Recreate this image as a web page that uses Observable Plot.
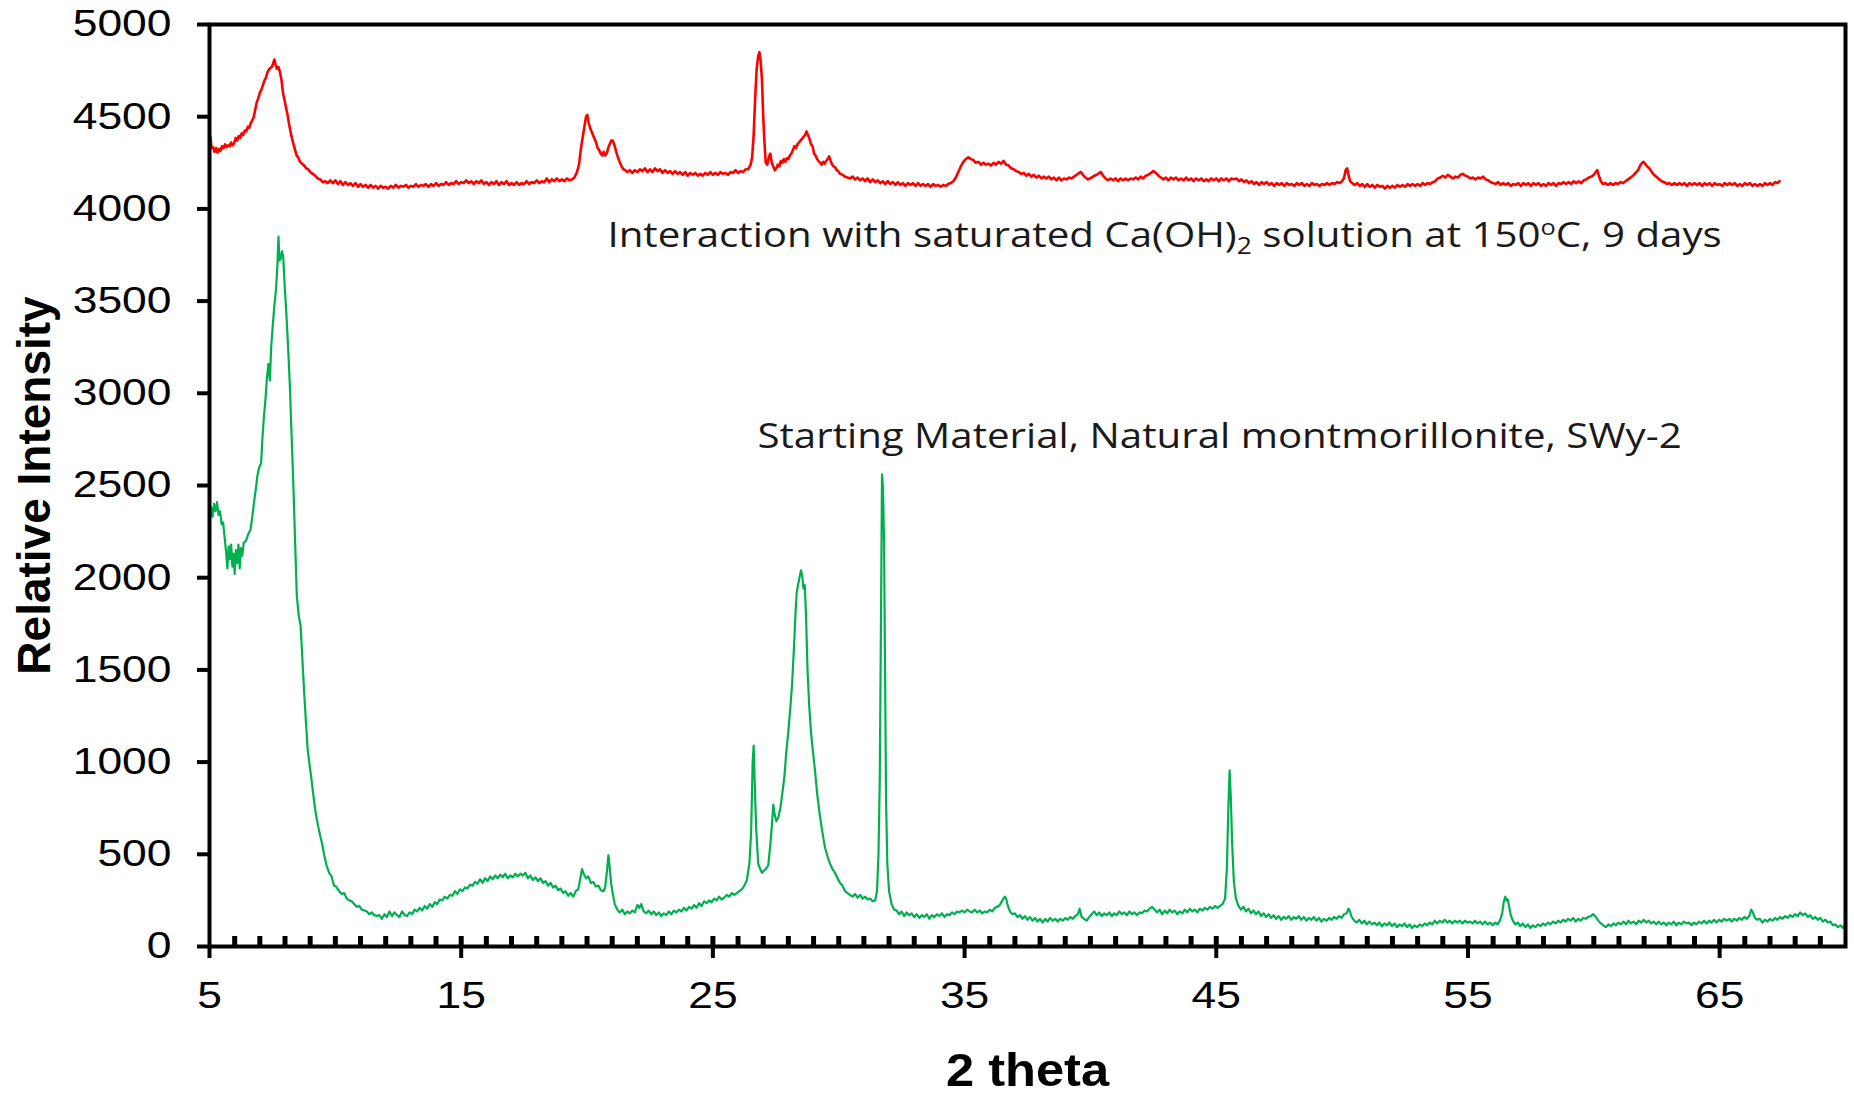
<!DOCTYPE html>
<html>
<head>
<meta charset="utf-8">
<style>
  html, body { margin: 0; padding: 0; background: #fff; }
  #chart { width: 1854px; height: 1098px; }
</style>
<script src="https://cdn.jsdelivr.net/npm/d3@7"></script>
<script src="https://cdn.jsdelivr.net/npm/@observablehq/plot@0.6"></script>
</head>
<body>
<div id="chart"></div>
<script>
// ---- Tick values ----
const xTicks = [5, 15, 25, 35, 45, 55, 65];
const xMinorTicks = [6,7,8,9,10,11,12,13,14,15,16,17,18,19,20,21,22,23,24,25,26,27,28,29,30,31,32,33,34,35,36,37,38,39,40,41,42,43,44,45,46,47,48,49,50,51,52,53,54,55,56,57,58,59,60,61,62,63,64,65,66,67,68,69];
const yTicks = [0, 500, 1000, 1500, 2000, 2500, 3000, 3500, 4000, 4500, 5000];

// ---- Axis titles ----
const xTitle = ["2 theta"];
const yTitle = ["Relative Intensity"];

// ---- Curve annotations (2θ, intensity where the text starts) ----
const notes = [
  {text: "Interaction with saturated Ca(OH)2 solution at 150oC, 9 days", x: 20.81, y: 3855},
  {text: "Starting Material, Natural montmorillonite, SWy-2", x: 26.77, y: 2766}
];

// ---- Starting material (green), [2θ, intensity] ----
const startingMaterial = [
[5.00,2310],[5.07,2380],[5.12,2330],[5.18,2400],[5.24,2360],[5.30,2410],[5.36,2340],[5.42,2360],[5.48,2290],[5.54,2300],
[5.60,2220],[5.66,2140],[5.71,2050],[5.76,2170],[5.81,2100],[5.86,2180],[5.91,2060],[5.96,2130],[6.00,2020],[6.05,2150],
[6.10,2080],[6.15,2180],[6.20,2050],[6.25,2160],[6.30,2120],[6.36,2190],[6.45,2200],[6.55,2240],[6.63,2260],[6.70,2330],
[6.77,2410],[6.84,2480],[6.91,2560],[6.98,2600],[7.05,2620],[7.10,2750],[7.16,2870],[7.22,2960],[7.28,3080],[7.34,3160],
[7.40,3070],[7.45,3250],[7.52,3380],[7.58,3480],[7.64,3560],[7.70,3700],[7.74,3850],[7.78,3720],[7.83,3730],[7.88,3770],
[7.93,3740],[7.98,3600],[8.05,3440],[8.12,3260],[8.19,3050],[8.26,2780],[8.33,2510],[8.40,2200],[8.47,1900],[8.55,1790],
[8.62,1740],[8.69,1560],[8.76,1380],[8.83,1220],[8.90,1070],[8.97,990],[9.04,920],[9.11,840],[9.18,760],[9.25,700],
[9.32,650],[9.40,600],[9.47,560],[9.55,500],[9.65,440],[9.75,400],[9.85,380],[9.95,330],[10.03,325],[10.15,300],
[10.25,285],[10.35,290],[10.45,260],[10.55,250],[10.65,245],[10.75,230],[10.85,215],[10.95,220],[11.05,200],[11.15,195],
[11.25,190],[11.35,175],[11.45,185],[11.55,170],[11.65,165],[11.75,170],[11.85,150],[11.95,175],[12.05,160],[12.15,190],
[12.25,165],[12.35,185],[12.45,170],[12.55,160],[12.65,190],[12.75,170],[12.85,165],[12.95,185],[13.05,175],[13.15,200],
[13.25,190],[13.35,210],[13.45,195],[13.55,220],[13.65,205],[13.75,230],[13.85,215],[13.95,240],[14.05,230],[14.15,255],
[14.25,250],[14.35,270],[14.45,260],[14.55,280],[14.65,275],[14.75,300],[14.85,285],[14.95,310],[15.05,300],[15.15,320],
[15.25,315],[15.35,335],[15.45,330],[15.55,350],[15.65,340],[15.75,365],[15.85,345],[15.95,370],[16.05,355],[16.15,380],
[16.25,365],[16.35,385],[16.45,370],[16.55,390],[16.65,375],[16.75,395],[16.85,370],[16.95,385],[17.05,375],[17.15,395],
[17.25,380],[17.35,395],[17.45,385],[17.55,400],[17.65,370],[17.75,385],[17.85,360],[17.95,375],[18.05,355],[18.15,370],
[18.25,345],[18.35,355],[18.45,330],[18.55,345],[18.65,320],[18.75,330],[18.85,305],[18.95,315],[19.05,290],[19.15,300],
[19.25,275],[19.35,290],[19.45,270],[19.55,300],[19.65,310],[19.72,360],[19.80,420],[19.88,390],[19.96,370],[20.05,380],
[20.15,345],[20.25,350],[20.35,325],[20.45,330],[20.55,305],[20.65,300],[20.72,320],[20.80,420],[20.85,495],[20.90,430],
[20.96,340],[21.02,290],[21.10,230],[21.20,200],[21.30,185],[21.40,200],[21.50,175],[21.60,190],[21.70,180],[21.80,195],
[21.90,185],[22.00,225],[22.08,210],[22.15,230],[22.25,190],[22.35,180],[22.45,195],[22.55,175],[22.65,190],[22.75,170],
[22.85,185],[22.95,165],[23.05,180],[23.15,170],[23.25,190],[23.35,175],[23.45,195],[23.55,185],[23.65,200],[23.75,190],
[23.85,210],[23.95,195],[24.05,215],[24.15,205],[24.25,225],[24.35,210],[24.45,235],[24.55,220],[24.65,245],[24.75,235],
[24.85,250],[24.95,240],[25.05,260],[25.15,250],[25.25,270],[25.35,255],[25.45,265],[25.55,280],[25.65,270],[25.75,290],
[25.85,280],[25.95,290],[26.05,300],[26.15,310],[26.25,330],[26.35,360],[26.45,450],[26.52,620],[26.58,1000],[26.62,1090],
[26.66,900],[26.72,640],[26.80,450],[26.88,420],[26.95,400],[27.02,410],[27.10,420],[27.20,440],[27.28,550],[27.34,650],
[27.40,770],[27.45,720],[27.52,680],[27.60,700],[27.68,750],[27.76,830],[27.84,920],[27.92,1060],[28.00,1170],[28.08,1300],
[28.15,1430],[28.22,1620],[28.28,1800],[28.33,1920],[28.38,1960],[28.44,2000],[28.50,2040],[28.55,2010],[28.60,1940],[28.65,1960],
[28.70,1800],[28.76,1500],[28.83,1300],[28.90,1160],[28.98,1050],[29.06,950],[29.15,820],[29.25,710],[29.35,620],[29.45,540],
[29.55,490],[29.65,450],[29.75,420],[29.85,400],[29.95,370],[30.05,345],[30.15,330],[30.25,300],[30.35,290],[30.45,280],
[30.55,270],[30.65,285],[30.75,265],[30.85,280],[30.95,260],[31.05,270],[31.15,255],[31.25,260],[31.35,245],[31.45,250],
[31.52,300],[31.58,500],[31.63,900],[31.68,1800],[31.72,2560],[31.76,2480],[31.80,2200],[31.84,1500],[31.88,800],[31.93,450],
[32.00,300],[32.10,230],[32.20,200],[32.30,195],[32.40,175],[32.50,190],[32.60,165],[32.70,185],[32.80,170],[32.90,180],
[33.00,160],[33.10,175],[33.20,155],[33.30,170],[33.40,160],[33.50,175],[33.60,150],[33.70,170],[33.80,160],[33.90,175],
[34.00,165],[34.10,180],[34.20,160],[34.30,175],[34.40,170],[34.50,185],[34.60,175],[34.70,190],[34.80,185],[34.90,195],
[35.00,185],[35.10,200],[35.20,190],[35.30,185],[35.40,200],[35.50,185],[35.60,195],[35.70,180],[35.80,190],[35.90,185],
[36.00,200],[36.10,190],[36.20,210],[36.30,215],[36.40,225],[36.50,250],[36.60,270],[36.65,260],[36.70,230],[36.80,190],
[36.90,175],[37.00,180],[37.10,160],[37.20,170],[37.30,150],[37.40,165],[37.50,145],[37.60,160],[37.70,140],[37.80,155],
[37.90,135],[38.00,150],[38.10,130],[38.20,150],[38.30,135],[38.40,155],[38.50,140],[38.60,150],[38.70,135],[38.80,150],
[38.90,140],[39.00,155],[39.10,145],[39.20,160],[39.30,150],[39.40,165],[39.50,175],[39.57,205],[39.65,160],[39.75,150],
[39.85,140],[39.95,160],[40.05,175],[40.15,190],[40.25,170],[40.35,185],[40.45,165],[40.55,180],[40.65,170],[40.75,185],
[40.85,165],[40.95,180],[41.05,170],[41.15,190],[41.25,175],[41.35,185],[41.45,170],[41.55,190],[41.65,175],[41.75,185],
[41.85,170],[41.95,185],[42.05,180],[42.15,195],[42.25,190],[42.35,205],[42.45,215],[42.55,200],[42.65,185],[42.75,200],
[42.85,175],[42.95,195],[43.05,180],[43.15,200],[43.25,185],[43.35,195],[43.45,175],[43.55,190],[43.65,180],[43.75,200],
[43.85,185],[43.95,205],[44.05,190],[44.15,200],[44.25,185],[44.35,205],[44.45,195],[44.55,210],[44.65,200],[44.75,215],
[44.85,205],[44.95,220],[45.05,210],[45.15,220],[45.25,230],[45.35,260],[45.42,420],[45.48,750],[45.53,955],[45.58,800],
[45.63,560],[45.70,350],[45.78,260],[45.88,220],[45.98,200],[46.08,215],[46.18,190],[46.28,205],[46.38,180],[46.48,195],
[46.58,175],[46.68,190],[46.78,165],[46.88,180],[46.98,160],[47.08,175],[47.18,155],[47.28,170],[47.38,150],[47.48,165],
[47.58,145],[47.68,160],[47.78,150],[47.88,165],[47.98,145],[48.08,160],[48.18,150],[48.28,165],[48.38,145],[48.48,160],
[48.58,140],[48.68,155],[48.78,145],[48.88,160],[48.98,140],[49.08,155],[49.18,135],[49.28,150],[49.38,140],[49.48,155],
[49.58,145],[49.68,160],[49.78,150],[49.88,165],[49.98,155],[50.08,175],[50.18,180],[50.25,205],[50.30,195],[50.38,160],
[50.48,140],[50.58,130],[50.68,145],[50.78,125],[50.88,140],[50.98,120],[51.08,135],[51.18,120],[51.28,130],[51.38,115],
[51.48,130],[51.58,110],[51.68,125],[51.78,115],[51.88,130],[51.98,110],[52.08,125],[52.18,105],[52.28,120],[52.38,110],
[52.48,125],[52.58,105],[52.68,120],[52.78,100],[52.88,115],[52.98,105],[53.08,120],[53.18,110],[53.28,125],[53.38,115],
[53.48,130],[53.58,120],[53.68,140],[53.78,125],[53.88,140],[53.98,130],[54.08,145],[54.18,130],[54.28,140],[54.38,125],
[54.48,140],[54.58,130],[54.68,140],[54.78,125],[54.88,140],[54.98,130],[55.08,135],[55.18,125],[55.28,140],[55.38,125],
[55.48,135],[55.58,120],[55.68,135],[55.78,120],[55.88,130],[55.98,115],[56.08,130],[56.18,120],[56.28,145],[56.36,180],
[56.42,240],[56.48,270],[56.53,250],[56.58,255],[56.64,215],[56.70,170],[56.78,140],[56.88,120],[56.98,130],[57.08,110],
[57.18,125],[57.28,105],[57.38,120],[57.48,100],[57.58,115],[57.68,105],[57.78,120],[57.88,110],[57.98,125],[58.08,115],
[58.18,130],[58.28,120],[58.38,135],[58.48,125],[58.58,140],[58.68,130],[58.78,145],[58.88,135],[58.98,150],[59.08,140],
[59.18,155],[59.28,135],[59.38,150],[59.48,140],[59.58,155],[59.68,150],[59.78,160],[59.88,165],[59.98,175],[60.08,160],
[60.18,140],[60.28,125],[60.38,115],[60.48,105],[60.58,120],[60.68,110],[60.78,125],[60.88,115],[60.98,130],[61.08,120],
[61.18,135],[61.28,120],[61.38,140],[61.48,125],[61.58,135],[61.68,120],[61.78,140],[61.88,130],[61.98,145],[62.08,130],
[62.18,140],[62.28,125],[62.38,135],[62.48,120],[62.58,135],[62.68,120],[62.78,130],[62.88,115],[62.98,130],[63.08,120],
[63.18,135],[63.28,115],[63.38,130],[63.48,120],[63.58,135],[63.68,125],[63.78,130],[63.88,115],[63.98,130],[64.08,120],
[64.18,135],[64.28,125],[64.38,140],[64.48,125],[64.58,140],[64.68,130],[64.78,145],[64.88,130],[64.98,145],[65.08,135],
[65.18,150],[65.28,140],[65.38,150],[65.48,135],[65.58,150],[65.68,140],[65.78,155],[65.88,145],[65.98,160],[66.08,150],
[66.18,165],[66.25,200],[66.32,185],[66.40,155],[66.50,145],[66.60,150],[66.70,130],[66.80,145],[66.90,135],[67.00,150],
[67.10,140],[67.20,155],[67.30,145],[67.40,160],[67.50,150],[67.60,165],[67.70,155],[67.80,170],[67.90,160],[68.00,175],
[68.10,165],[68.20,185],[68.30,170],[68.40,180],[68.50,160],[68.60,170],[68.70,150],[68.80,160],[68.90,145],[69.00,155],
[69.10,135],[69.20,145],[69.30,130],[69.40,135],[69.50,115],[69.60,120],[69.70,105],[69.80,115],[69.90,100],[69.97,115]
];

// ---- After Ca(OH)2 treatment (red), [2θ, intensity] ----
const caOH2Treated = [
[5.00,4400],[5.04,4390],[5.08,4330],[5.14,4335],[5.20,4310],[5.26,4330],[5.32,4305],[5.38,4325],[5.44,4315],[5.50,4340],
[5.56,4330],[5.62,4350],[5.68,4335],[5.74,4345],[5.80,4340],[5.86,4360],[5.92,4345],[5.98,4355],[6.04,4385],[6.10,4370],
[6.16,4395],[6.22,4385],[6.28,4410],[6.34,4400],[6.40,4425],[6.46,4420],[6.52,4445],[6.58,4440],[6.64,4465],[6.70,4480],
[6.76,4500],[6.82,4540],[6.88,4580],[6.94,4600],[7.00,4630],[7.06,4645],[7.12,4670],[7.18,4695],[7.24,4710],[7.30,4740],
[7.36,4755],[7.42,4765],[7.48,4770],[7.53,4790],[7.58,4810],[7.63,4780],[7.68,4760],[7.74,4770],[7.80,4740],[7.86,4700],
[7.92,4630],[7.98,4590],[8.04,4550],[8.10,4510],[8.16,4460],[8.22,4420],[8.28,4380],[8.34,4350],[8.40,4320],[8.46,4290],
[8.52,4280],[8.60,4255],[8.68,4245],[8.76,4235],[8.84,4220],[8.92,4215],[9.00,4200],[9.10,4190],[9.20,4180],[9.30,4165],
[9.40,4160],[9.50,4145],[9.60,4150],[9.70,4140],[9.80,4155],[9.90,4140],[10.00,4155],[10.10,4135],[10.20,4150],[10.30,4130],
[10.40,4145],[10.50,4130],[10.60,4140],[10.70,4125],[10.80,4140],[10.90,4120],[11.00,4135],[11.10,4120],[11.20,4130],[11.30,4115],
[11.40,4130],[11.50,4115],[11.60,4125],[11.70,4110],[11.80,4125],[11.90,4115],[12.00,4120],[12.10,4110],[12.20,4125],[12.30,4115],
[12.40,4130],[12.50,4115],[12.60,4125],[12.70,4120],[12.80,4130],[12.90,4115],[13.00,4125],[13.10,4120],[13.20,4135],[13.30,4120],
[13.40,4130],[13.50,4125],[13.60,4135],[13.70,4120],[13.80,4135],[13.90,4125],[14.00,4140],[14.10,4125],[14.20,4135],[14.30,4130],
[14.40,4145],[14.50,4130],[14.60,4140],[14.70,4135],[14.80,4150],[14.90,4135],[15.00,4145],[15.10,4140],[15.20,4155],[15.30,4140],
[15.40,4150],[15.50,4135],[15.60,4150],[15.70,4140],[15.80,4155],[15.90,4135],[16.00,4145],[16.10,4130],[16.20,4145],[16.30,4135],
[16.40,4150],[16.50,4130],[16.60,4145],[16.70,4135],[16.80,4150],[16.90,4130],[17.00,4140],[17.10,4130],[17.20,4145],[17.30,4130],
[17.40,4140],[17.50,4135],[17.60,4150],[17.70,4135],[17.80,4145],[17.90,4140],[18.00,4155],[18.10,4140],[18.20,4150],[18.30,4145],
[18.40,4165],[18.50,4145],[18.60,4160],[18.70,4150],[18.80,4165],[18.90,4150],[19.00,4160],[19.10,4150],[19.20,4165],[19.30,4155],
[19.40,4160],[19.50,4170],[19.60,4200],[19.68,4240],[19.76,4330],[19.84,4400],[19.90,4450],[19.96,4500],[20.01,4510],[20.06,4470],
[20.12,4440],[20.18,4420],[20.24,4400],[20.30,4380],[20.36,4360],[20.42,4330],[20.48,4320],[20.54,4300],[20.60,4290],[20.66,4310],
[20.72,4290],[20.78,4300],[20.84,4330],[20.90,4350],[20.96,4370],[21.02,4370],[21.08,4350],[21.14,4320],[21.20,4290],[21.28,4260],
[21.36,4235],[21.44,4215],[21.52,4210],[21.60,4200],[21.70,4210],[21.80,4195],[21.90,4210],[22.00,4200],[22.10,4215],[22.20,4205],
[22.30,4220],[22.40,4200],[22.50,4215],[22.60,4200],[22.70,4220],[22.80,4205],[22.90,4215],[23.00,4195],[23.10,4210],[23.20,4195],
[23.30,4205],[23.40,4190],[23.50,4205],[23.60,4190],[23.70,4200],[23.80,4185],[23.90,4200],[24.00,4180],[24.10,4195],[24.20,4185],
[24.30,4195],[24.40,4180],[24.50,4190],[24.60,4180],[24.70,4195],[24.80,4185],[24.90,4200],[25.00,4185],[25.10,4195],[25.20,4185],
[25.30,4200],[25.40,4190],[25.50,4195],[25.60,4185],[25.70,4200],[25.80,4195],[25.90,4210],[26.00,4195],[26.10,4205],[26.20,4200],
[26.30,4215],[26.40,4215],[26.50,4240],[26.56,4280],[26.62,4400],[26.68,4600],[26.74,4760],[26.80,4830],[26.85,4850],[26.90,4800],
[26.95,4700],[27.00,4500],[27.05,4360],[27.10,4250],[27.16,4240],[27.22,4280],[27.28,4300],[27.34,4250],[27.40,4230],[27.46,4210],
[27.52,4220],[27.58,4240],[27.64,4230],[27.70,4260],[27.76,4250],[27.82,4270],[27.88,4255],[27.94,4275],[28.00,4270],[28.06,4290],
[28.12,4300],[28.18,4320],[28.24,4340],[28.30,4330],[28.36,4350],[28.42,4360],[28.48,4370],[28.54,4380],[28.60,4390],[28.66,4400],
[28.72,4420],[28.78,4400],[28.84,4380],[28.90,4350],[28.96,4340],[29.02,4300],[29.08,4290],[29.14,4270],[29.20,4260],[29.26,4250],
[29.32,4240],[29.38,4255],[29.44,4245],[29.50,4260],[29.56,4270],[29.62,4285],[29.68,4260],[29.74,4240],[29.80,4230],[29.86,4225],
[29.92,4210],[29.98,4205],[30.05,4190],[30.15,4185],[30.25,4175],[30.35,4170],[30.45,4165],[30.55,4175],[30.65,4160],[30.75,4170],
[30.85,4155],[30.95,4165],[31.05,4150],[31.15,4165],[31.25,4145],[31.35,4160],[31.45,4145],[31.55,4155],[31.65,4140],[31.75,4150],
[31.85,4135],[31.95,4150],[32.05,4135],[32.15,4145],[32.25,4130],[32.35,4145],[32.45,4130],[32.55,4140],[32.65,4125],[32.75,4140],
[32.85,4130],[32.95,4140],[33.05,4125],[33.15,4140],[33.25,4125],[33.35,4135],[33.45,4125],[33.55,4135],[33.65,4120],[33.75,4135],
[33.85,4125],[33.95,4130],[34.05,4120],[34.15,4130],[34.25,4125],[34.35,4135],[34.45,4140],[34.55,4150],[34.65,4170],[34.75,4200],
[34.85,4230],[34.95,4255],[35.05,4270],[35.15,4280],[35.25,4270],[35.35,4265],[35.45,4250],[35.55,4255],[35.65,4240],[35.75,4250],
[35.85,4240],[35.95,4245],[36.05,4235],[36.15,4250],[36.25,4240],[36.35,4255],[36.45,4245],[36.55,4260],[36.65,4240],[36.75,4235],
[36.85,4220],[36.95,4215],[37.05,4205],[37.15,4200],[37.25,4190],[37.35,4195],[37.45,4180],[37.55,4190],[37.65,4175],[37.75,4185],
[37.85,4170],[37.95,4180],[38.05,4165],[38.15,4175],[38.25,4165],[38.35,4175],[38.45,4160],[38.55,4170],[38.65,4155],[38.75,4170],
[38.85,4155],[38.95,4165],[39.05,4160],[39.15,4170],[39.25,4165],[39.35,4175],[39.45,4185],[39.55,4195],[39.62,4200],[39.70,4185],
[39.80,4170],[39.90,4160],[39.97,4165],[40.05,4170],[40.15,4180],[40.25,4185],[40.35,4195],[40.42,4200],[40.50,4180],[40.60,4165],
[40.70,4155],[40.80,4165],[40.90,4155],[41.00,4165],[41.10,4150],[41.20,4165],[41.30,4155],[41.40,4165],[41.50,4155],[41.60,4165],
[41.70,4160],[41.80,4170],[41.90,4160],[42.00,4175],[42.10,4165],[42.20,4180],[42.30,4185],[42.40,4195],[42.50,4205],[42.60,4195],
[42.70,4180],[42.80,4170],[42.90,4160],[43.00,4170],[43.10,4155],[43.20,4170],[43.30,4160],[43.40,4170],[43.50,4155],[43.60,4165],
[43.70,4155],[43.80,4170],[43.90,4155],[44.00,4165],[44.10,4150],[44.20,4165],[44.30,4155],[44.40,4165],[44.50,4150],[44.60,4160],
[44.70,4150],[44.80,4165],[44.90,4155],[45.00,4165],[45.10,4150],[45.20,4165],[45.30,4155],[45.40,4165],[45.50,4150],[45.60,4165],
[45.70,4160],[45.80,4165],[45.90,4150],[46.00,4160],[46.10,4145],[46.20,4155],[46.30,4140],[46.40,4150],[46.50,4135],[46.60,4145],
[46.70,4130],[46.80,4145],[46.90,4135],[47.00,4145],[47.10,4130],[47.20,4140],[47.30,4125],[47.40,4140],[47.50,4130],[47.60,4140],
[47.70,4125],[47.80,4140],[47.90,4130],[48.00,4135],[48.10,4125],[48.20,4140],[48.30,4130],[48.40,4140],[48.50,4125],[48.60,4135],
[48.70,4125],[48.80,4140],[48.90,4130],[49.00,4135],[49.10,4125],[49.20,4135],[49.30,4130],[49.40,4140],[49.50,4130],[49.60,4140],
[49.70,4135],[49.80,4145],[49.90,4140],[50.00,4150],[50.08,4170],[50.14,4210],[50.20,4220],[50.26,4180],[50.32,4150],[50.40,4140],
[50.50,4130],[50.60,4140],[50.70,4125],[50.80,4135],[50.90,4120],[51.00,4135],[51.10,4120],[51.20,4130],[51.30,4115],[51.40,4130],
[51.50,4120],[51.60,4125],[51.70,4110],[51.80,4125],[51.90,4115],[52.00,4125],[52.10,4115],[52.20,4130],[52.30,4120],[52.40,4130],
[52.50,4120],[52.60,4135],[52.70,4125],[52.80,4135],[52.90,4125],[53.00,4135],[53.10,4125],[53.20,4140],[53.30,4130],[53.40,4140],
[53.50,4135],[53.60,4145],[53.70,4150],[53.80,4165],[53.90,4170],[54.00,4180],[54.10,4170],[54.20,4185],[54.30,4175],[54.40,4165],
[54.50,4175],[54.60,4170],[54.70,4185],[54.80,4190],[54.90,4180],[55.00,4175],[55.10,4165],[55.20,4170],[55.30,4160],[55.40,4170],
[55.50,4165],[55.60,4175],[55.70,4160],[55.80,4155],[55.90,4145],[56.00,4140],[56.10,4135],[56.20,4145],[56.30,4130],[56.40,4140],
[56.50,4130],[56.60,4140],[56.70,4125],[56.80,4135],[56.90,4130],[57.00,4140],[57.10,4125],[57.20,4140],[57.30,4130],[57.40,4140],
[57.50,4125],[57.60,4140],[57.70,4130],[57.80,4140],[57.90,4125],[58.00,4135],[58.10,4125],[58.20,4140],[58.30,4130],[58.40,4140],
[58.50,4125],[58.60,4140],[58.70,4135],[58.80,4145],[58.90,4135],[59.00,4145],[59.10,4135],[59.20,4150],[59.30,4140],[59.40,4150],
[59.50,4140],[59.60,4155],[59.70,4160],[59.80,4170],[59.90,4175],[60.00,4185],[60.08,4200],[60.14,4210],[60.20,4180],[60.28,4150],
[60.36,4135],[60.46,4140],[60.56,4130],[60.66,4140],[60.76,4130],[60.86,4140],[60.96,4135],[61.06,4145],[61.16,4140],[61.26,4150],
[61.36,4160],[61.46,4170],[61.56,4180],[61.66,4195],[61.76,4210],[61.84,4235],[61.92,4250],[61.98,4255],[62.04,4245],[62.12,4230],
[62.20,4220],[62.28,4205],[62.36,4190],[62.44,4180],[62.52,4170],[62.60,4160],[62.70,4150],[62.80,4145],[62.90,4135],[63.00,4140],
[63.10,4130],[63.20,4140],[63.30,4130],[63.40,4140],[63.50,4130],[63.60,4140],[63.70,4125],[63.80,4140],[63.90,4130],[64.00,4140],
[64.10,4130],[64.20,4140],[64.30,4125],[64.40,4140],[64.50,4130],[64.60,4140],[64.70,4125],[64.80,4140],[64.90,4130],[65.00,4135],
[65.10,4125],[65.20,4140],[65.30,4130],[65.40,4140],[65.50,4130],[65.60,4140],[65.70,4125],[65.80,4135],[65.90,4125],[66.00,4140],
[66.10,4130],[66.20,4140],[66.30,4125],[66.40,4135],[66.50,4125],[66.60,4135],[66.70,4125],[66.80,4140],[66.90,4130],[67.00,4140],
[67.10,4130],[67.20,4145],[67.30,4140],[67.38,4150]
];

const chart = Plot.plot({
  width: 1854,
  height: 1098,
  marginLeft: 209,
  marginRight: 9,
  marginTop: 24,
  marginBottom: 152,
  style: {background: "#fff", color: "#000", fontFamily: "'Liberation Sans', Arial, sans-serif", fontSize: "37px"},
  x: {domain: [5, 70]},
  y: {domain: [0, 5000]},
  marks: [
    Plot.line(startingMaterial, {x: d => d[0], y: d => d[1], stroke: "#00b050", strokeWidth: 2.2}),
    Plot.line(caOH2Treated, {x: d => d[0], y: d => d[1], stroke: "#ff0000", strokeWidth: 2.6}),
    Plot.frame({stroke: "#000", strokeWidth: 4}),
    Plot.axisY(yTicks, {anchor: "left", tickSize: 12, tickPadding: 26, strokeWidth: 4, fontSize: 37, tickFormat: d3.format("d"), label: null}),
    Plot.axisX(xTicks, {anchor: "bottom", tickSize: 12, tickPadding: 23, strokeWidth: 4, fontSize: 37, tickFormat: d3.format("d"), label: null}),
    Plot.axisX(xMinorTicks, {anchor: "bottom", tickSize: 10, dy: -10, strokeWidth: 5, tickFormat: () => "", label: null}),
    Plot.text(xTitle, {text: d => d, frameAnchor: "bottom", textAnchor: "middle", dy: 139, fontSize: 46, fontWeight: "bold"}),
    Plot.text(yTitle, {text: d => d, frameAnchor: "left", textAnchor: "middle", dx: -174, rotate: -90, fontSize: 46, fontWeight: "bold"}),
    Plot.text(notes, {x: "x", y: "y", text: "text", textAnchor: "start", fontSize: 35, fontFamily: "'Open Sans', sans-serif", fill: "#1a1a1a"})
  ]
});

document.getElementById("chart").appendChild(chart);

// Widen the tick labels to match the horizontally stretched look of the original
d3.select(chart).selectAll('g[aria-label="y-axis tick label"] text, g[aria-label="x-axis tick label"] text')
  .attr("transform", function () { return (this.getAttribute("transform") || "") + " scale(1.2,1)"; });
d3.select(chart).selectAll("text").filter(function () { return this.textContent === xTitle[0]; })
  .attr("transform", function () { return (this.getAttribute("transform") || "") + " scale(1.1,1)"; });
d3.select(chart).selectAll("text").filter(function () { return notes.some(n => n.text === this.textContent); })
  .attr("transform", function () { return (this.getAttribute("transform") || "") + " scale(1.15,1)"; });

// Subscript "2" and superscript "o" in the first annotation
d3.select(chart).selectAll("text").each(function () {
  if (this.textContent === notes[0].text) {
    const sel = d3.select(this);
    sel.text("");
    sel.append("tspan").text("Interaction with saturated Ca(OH)");
    sel.append("tspan").attr("dy", 7).attr("font-size", 23).text("2");
    sel.append("tspan").attr("dy", -7).text(" solution at 150");
    sel.append("tspan").attr("dy", -12).attr("font-size", 22).text("o");
    sel.append("tspan").attr("dy", 12).text("C, 9 days");
  }
});
</script>
</body>
</html>
